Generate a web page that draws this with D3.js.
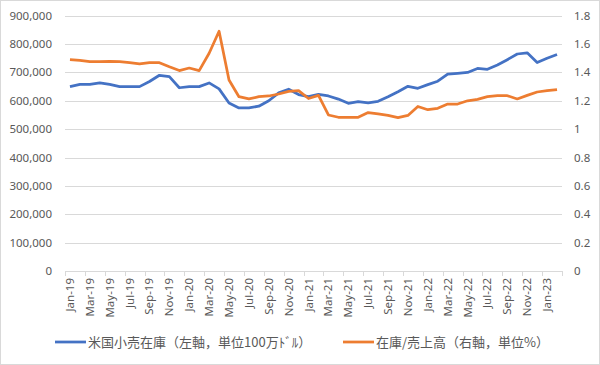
<!DOCTYPE html>
<html>
<head>
<meta charset="utf-8">
<script src="https://cdn.jsdelivr.net/npm/d3@7"></script>
<style>
  body { margin: 0; background: #fff; }
  text { font-family: "Noto Sans", "Noto Sans CJK JP", sans-serif; fill: #595959; }
  .legend text { font-family: "Noto Sans CJK JP", sans-serif; }
</style>
</head>
<body>
<svg width="600" height="365"></svg>
<script>
// months Jan-19 .. Feb-23
const months = []
const monthNames = ["Jan", "Feb", "Mar", "Apr", "May", "Jun", "Jul", "Aug", "Sep", "Oct", "Nov", "Dec"]
for (let y = 19; y <= 23; y++) {
	monthNames.forEach((m, i) => { if (y < 23 || i < 2) months.push(`${m}-${y}`) })
}

// 米国小売在庫 (百万ドル)
const inventory = [
	650000, 658000, 658000, 663000, 658000, 650000, 650000, 650000, 668000, 690000, 685000, 646000,
	650000, 650000, 663000, 642000, 592000, 575000, 575000, 581000, 600000, 628000, 641000, 622000,
	615000, 623000, 617000, 606000, 591000, 597000, 593000, 598000, 614000, 632000, 651000, 644000,
	657000, 669000, 694000, 697000, 700000, 714000, 711000, 726000, 745000, 765000, 769000, 735000,
	750000, 763000
]

// 在庫/売上高
const ratio = [
	1.49, 1.485, 1.477, 1.477, 1.478, 1.476, 1.469, 1.46, 1.469, 1.469, 1.44, 1.413,
	1.431, 1.413, 1.535, 1.69, 1.347, 1.229, 1.213, 1.229, 1.234, 1.248, 1.266, 1.272,
	1.216, 1.238, 1.10, 1.084, 1.084, 1.084, 1.117, 1.108, 1.097, 1.082, 1.097, 1.16,
	1.137, 1.147, 1.177, 1.177, 1.20, 1.21, 1.229, 1.236, 1.236, 1.213, 1.238, 1.262,
	1.271, 1.279
]

const leftTicks = [0, 100000, 200000, 300000, 400000, 500000, 600000, 700000, 800000, 900000]
const rightTicks = [0, 0.2, 0.4, 0.6, 0.8, 1, 1.2, 1.4, 1.6, 1.8]
const legendLabels = ["米国小売在庫（左軸，単位100万ﾄﾞﾙ）", "在庫/売上高（右軸，単位%）"]
const colors = ["#4472c4", "#ed7d31"]

const svg = d3.select("svg")

svg.append("rect")
	.attr("x", 0.5).attr("y", 0.5)
	.attr("width", 599).attr("height", 364)
	.style("fill", "#fff")
	.style("stroke", "#d9d9d9")

const plotL = 65, plotR = 562, plotT = 15.7, plotB = 271

const xScale = d3.scaleBand()
	.domain(months)
	.range([plotL, plotR])

const yLeft = d3.scaleLinear()
	.domain([0, 900000])
	.range([plotB, plotT])

const yRight = d3.scaleLinear()
	.domain([0, 1.8])
	.range([plotB, plotT])

const xMid = d => xScale(d) + xScale.bandwidth() / 2

// gridlines
svg.append("g")
	.selectAll("line")
	.data(leftTicks)
	.enter()
	.append("line")
	.attr("x1", plotL).attr("x2", plotR)
	.attr("y1", d => Math.round(yLeft(d)) + 0.5)
	.attr("y2", d => Math.round(yLeft(d)) + 0.5)
	.style("stroke", "#d9d9d9")

// left labels
svg.append("g")
	.selectAll("text")
	.data(leftTicks)
	.enter()
	.append("text")
	.attr("x", 52)
	.attr("y", d => yLeft(d) + 4)
	.attr("text-anchor", "end")
	.style("font-size", "11.5px")
	.text(d => d3.format(",")(d))

// right labels
svg.append("g")
	.selectAll("text")
	.data(rightTicks)
	.enter()
	.append("text")
	.attr("x", 574)
	.attr("y", d => yRight(d) + 4)
	.style("font-size", "11.5px")
	.text(d => d)

// x ticks every second category boundary
const tickIdx = d3.range(0, months.length + 1, 2)
svg.append("g")
	.selectAll("line")
	.data(tickIdx)
	.enter()
	.append("line")
	.attr("x1", i => Math.round(i < months.length ? xScale(months[i]) : plotR) + 0.5)
	.attr("x2", i => Math.round(i < months.length ? xScale(months[i]) : plotR) + 0.5)
	.attr("y1", plotB).attr("y2", plotB + 5)
	.style("stroke", "#d9d9d9")

// x labels
svg.append("g")
	.selectAll("text")
	.data(months.filter((d, i) => i % 2 === 0))
	.enter()
	.append("text")
	.attr("transform", d => `translate(${xMid(d) + 4}, 278) rotate(-90)`)
	.attr("text-anchor", "end")
	.style("font-size", "11.5px")
	.text(d => d)

// lines
const blueLine = d3.line()
	.x((d, i) => xMid(months[i]))
	.y(d => yLeft(d))

const orangeLine = d3.line()
	.x((d, i) => xMid(months[i]))
	.y(d => yRight(d))

svg.append("path")
	.datum(inventory)
	.attr("d", blueLine)
	.style("fill", "none")
	.style("stroke", colors[0])
	.style("stroke-width", 2.75)
	.style("stroke-linejoin", "round")

svg.append("path")
	.datum(ratio)
	.attr("d", orangeLine)
	.style("fill", "none")
	.style("stroke", colors[1])
	.style("stroke-width", 2.75)
	.style("stroke-linejoin", "round")

// legend
const legend = svg.append("g").attr("class", "legend")
const legendX = [55, 343]
legendLabels.forEach((label, i) => {
	legend.append("line")
		.attr("x1", legendX[i]).attr("x2", legendX[i] + 31)
		.attr("y1", 342).attr("y2", 342)
		.style("stroke", colors[i])
		.style("stroke-width", 2.75)
	legend.append("text")
		.attr("x", legendX[i] + 33)
		.attr("y", 346.5)
		.style("font-size", "13px")
		.text(label)
})
</script>
</body>
</html>
